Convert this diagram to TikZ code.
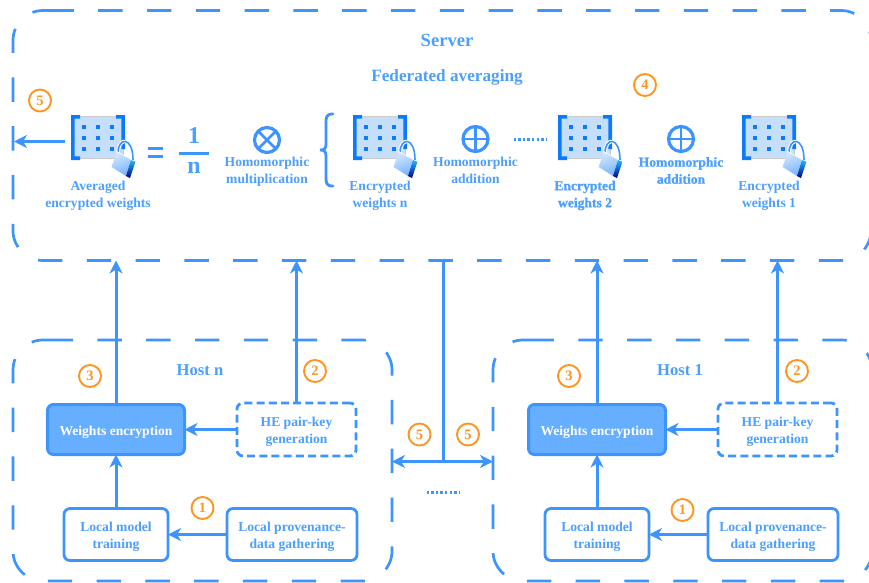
\documentclass[tikz,border=0pt]{standalone}
\usepackage{fontspec}
\setmainfont{Liberation Serif}
\newfontfamily\heavyface[FakeBold=1]{Liberation Serif Bold}
\usetikzlibrary{arrows.meta}
\definecolor{lineblue}{HTML}{3D94FF}
\definecolor{textblue}{HTML}{4C9FFF}
\definecolor{fillblue}{HTML}{66AEFF}
\definecolor{iconblue}{HTML}{0A7BFF}
\definecolor{iconfill}{HTML}{C4DEFC}
\definecolor{badgeorange}{HTML}{FF9420}
\newcommand{\boxtxt}[1]{\raisebox{-5.7pt}[0pt][0pt]{\begin{tabular}{@{}c@{}}#1\end{tabular}}}
\tikzset{
  every node/.style={outer sep=0pt,inner sep=0pt},
  area/.style={draw=lineblue,line width=2.7pt,dash pattern=on 24.4pt off 24.4pt,rounded corners=30pt},
  conn/.style={draw=lineblue,line width=3pt,-{Stealth[length=13pt,width=13pt,inset=4pt]}},
  plainconn/.style={draw=lineblue,line width=3pt},
  lab/.style={text=textblue,align=center,font=\bfseries\fontsize{13.6}{17}\selectfont},
  heavylab/.style={text=textblue,align=center,font=\heavyface\fontsize{13.6}{17}\selectfont},
  box/.style={draw=lineblue,line width=2.8pt,rounded corners=6pt,fill=white,text=textblue,font=\bfseries\fontsize{13.6}{17.5}\selectfont},
  solidbox/.style={box,line width=3pt,fill=fillblue,text=white},
  dashbox/.style={box,dash pattern=on 8pt off 4.2pt},
  badge/.style={circle,draw=badgeorange,line width=1.9pt,minimum size=22pt,text=badgeorange,font=\bfseries\fontsize{14.5}{16}\selectfont},
  opsym/.style={circle,draw=lineblue,line width=3.2pt,minimum size=25pt},
  opstroke/.style={draw=lineblue,line width=2.8pt},
  dotline/.style={draw=lineblue,line width=2.4pt,dash pattern=on 2.4pt off 2.2pt},
  bignum/.style={text=textblue,font=\bfseries\fontsize{24}{26}\selectfont},
  encicon/.pic={
    \fill[iconfill,draw=black!20,line width=.6pt] (2,1.5) rectangle (52,43.5);
    \fill[iconblue] (0,0)--(9,0)--(9,3.6)--(3.6,3.6)--(3.6,41.4)--(9,41.4)--(9,45)--(0,45)--cycle;
    \fill[iconblue] (45,0)--(54,0)--(54,34)--(50.4,34)--(50.4,3.6)--(45,3.6)--cycle;
    \foreach \cx in {13,27,41}\foreach \cy in {12,23,34}
      \fill[iconblue] (\cx-2.3,\cy-2.3) rectangle (\cx+2.3,\cy+2.3);
    \draw[white,line width=3.6pt] (47,38) .. controls (47,22) and (62,21) .. (62,45);
    \draw[lineblue,line width=1.6pt] (47,38) .. controls (47,22) and (62,21) .. (62,45);
    \shade[left color=iconfill!70!white,right color=lineblue!70!white,shading angle=20]
      (46,36.5)--(60,44.5)--(55,61)--(40.5,52)--cycle;
    \shade[top color=cyan!40!lineblue,bottom color=blue!55!black]
      (60,44.5)--(64.5,46.5)--(59,63)--(55,61)--cycle;
    \draw[white,line width=.5pt] (46,36.5)--(60,44.5)--(64.5,46.5);
  }
}
\begin{document}
\begin{tikzpicture}[x=1pt,y=-1pt]
\useasboundingbox (0,0) rectangle (869,582);
\clip (0,0) rectangle (869,582);
% area outlines
\node (server) at (442,135.5) [minimum width=858pt,minimum height=250pt] {};
\node (hostn) at (202.5,460.5) [minimum width=379pt,minimum height=241pt] {};
\node (hosta) at (682.5,460.5) [minimum width=379pt,minimum height=241pt] {};
\draw[area] (49.4,10.5) -- (871,10.5) -- (871,260.5) -- (13,260.5) -- (13,10.5) -- (49.4,10.5);
\draw[area] (48.6,340) -- (392,340) -- (392,581) -- (13,581) -- (13,340) -- (48.6,340);
\draw[area] (529.5,340) -- (872,340) -- (872,581) -- (493,581) -- (493,340) -- (529.5,340);
% titles
\node[text=textblue,font=\bfseries\fontsize{18.6}{20}\selectfont] (servertitle) at (447,40) {Server};
\node[text=textblue,font=\bfseries\fontsize{17.2}{19}\selectfont] (fedavg) at (447,77) {Federated averaging};
\node[text=textblue,font=\bfseries\fontsize{16.6}{19}\selectfont] (hostntitle) at (200,370) {Host n};
\node[text=textblue,font=\bfseries\fontsize{16.6}{19}\selectfont] (hostatitle) at (680,370) {Host 1};
% icons
\pic at (71,115) {encicon};
\pic at (353,115) {encicon};
\pic at (558,115) {encicon};
\pic at (742,115) {encicon};
\node[lab] (avg) at (98,195.5) {Averaged\\encrypted weights};
\node[lab] (encn) at (380,195.5) {Encrypted\\weights n};
\node[heavylab] (enc2) at (585,195.5) {Encrypted\\weights 2};
\node[lab] (enc1) at (769,195.5) {Encrypted\\weights 1};
% free arrow end
\coordinate (avgout) at (65,141.5);
\coordinate (serverleft) at (14,141.5);
\draw[conn] (avgout) -- (serverleft);
% equals, fraction
\coordinate (eqa) at (148,148.5);\coordinate (eqb) at (163,148.5);
\coordinate (eqc) at (148,156.5);\coordinate (eqd) at (163,156.5);
\draw[plainconn] (eqa) -- (eqb) (eqc) -- (eqd);
\node[bignum] (one) at (194,136) {1};
\coordinate (fraca) at (179,153.5);\coordinate (fracb) at (209,153.5);
\draw[plainconn] (fraca) -- (fracb);
\node[bignum] (den) at (194,168) {n};
% operators
\node[opsym] (otimes) at (267,140) {};
\draw[opstroke] (otimes.north west) -- (otimes.south east) (otimes.north east) -- (otimes.south west);
\node[lab] (mult) at (267,171.5) {Homomorphic\\multiplication};
\node[opsym] (oplusa) at (475.5,139) {};
\draw[opstroke] (oplusa.north) -- (oplusa.south) (oplusa.west) -- (oplusa.east);
\node[lab] (adda) at (475.5,170.5) {Homomorphic\\addition};
\node[opsym] (oplusb) at (681,139) {};
\draw[opstroke] (oplusb.north) -- (oplusb.south) (oplusb.west) -- (oplusb.east);
\node[heavylab] (addb) at (681,170.5) {Homomorphic\\addition};
% brace
\draw[lineblue,line width=2.8pt,line cap=round] (333,114) .. controls (326,114) and (326,117) .. (326,124) -- (326,144)
  .. controls (326,149) and (324,150) .. (320,150) .. controls (324,150) and (326,151) .. (326,156) -- (326,176)
  .. controls (326,183) and (326,186) .. (333,186);
% dots
\coordinate (dotsa) at (513.5,139.5);\coordinate (dotsb) at (546,139.5);
\draw[dotline] (dotsa) -- (dotsb);
\coordinate (dotsc) at (426.5,492.5);\coordinate (dotsd) at (459,492.5);
\draw[dotline] (dotsc) -- (dotsd);
% host n
\node[solidbox,minimum width=137pt,minimum height=50pt] (wen) at (116,429.5) {\boxtxt{Weights encryption}};
\node[box,minimum width=104pt,minimum height=52pt] (lmn) at (116,534.5) {\boxtxt{Local model\\training}};
\node[box,minimum width=130pt,minimum height=52pt] (lpn) at (292,534.5) {\boxtxt{Local provenance-\\data gathering}};
\node[dashbox,minimum width=119pt,minimum height=53pt] (hen) at (296.5,429.5) {\boxtxt{HE pair-key\\generation}};
% host 1
\node[solidbox,minimum width=137pt,minimum height=50pt] (wea) at (597,429.5) {\boxtxt{Weights encryption}};
\node[box,minimum width=104pt,minimum height=52pt] (lma) at (597,534.5) {\boxtxt{Local model\\training}};
\node[box,minimum width=130pt,minimum height=52pt] (lpa) at (773,534.5) {\boxtxt{Local provenance-\\data gathering}};
\node[dashbox,minimum width=119pt,minimum height=53pt] (hea) at (777.5,429.5) {\boxtxt{HE pair-key\\generation}};
% connectors
\foreach \h in {n,a}{
  \draw[conn] (lm\h) -- (we\h);
  \draw[conn] (lp\h) -- (lm\h);
  \draw[conn] (he\h) -- (we\h);
  \draw[conn] (we\h.north) -- (we\h.north |- server.south);
  \draw[conn] (he\h.north) -- (he\h.north |- server.south);
}
\coordinate (junction) at (443,461.5);
\draw[plainconn] (server.south -| junction) -- (junction);
\draw[conn,{Stealth[length=13pt,width=13pt,inset=4pt]}-{Stealth[length=13pt,width=13pt,inset=4pt]}] (hostn.east |- junction) -- (hosta.west |- junction);
% badges
\node[badge] (b5top) at (40,100.5) {5};
\node[badge] (b4) at (645,85) {4};
\node[badge] (bn1) at (202.5,508) {1};
\node[badge] (bn2) at (315,371) {2};
\node[badge] (bn3) at (90,376) {3};
\node[badge] (ba1) at (682.5,510) {1};
\node[badge] (ba2) at (797,371) {2};
\node[badge] (ba3) at (569,376) {3};
\node[badge] (bl5) at (419.5,434.5) {5};
\node[badge] (br5) at (468,434.5) {5};
\end{tikzpicture}
\end{document}
